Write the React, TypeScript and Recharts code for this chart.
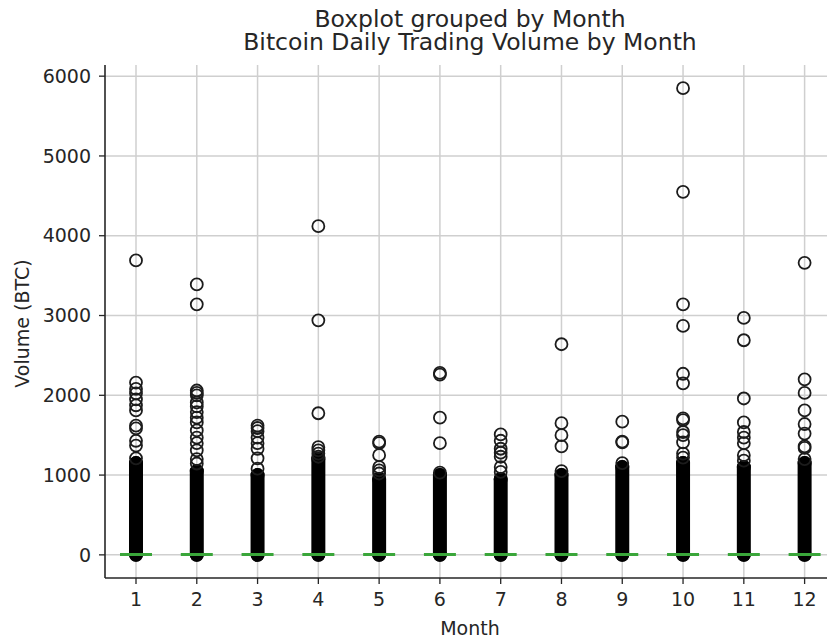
import React from 'react';
import { ScatterChart, Scatter, XAxis, YAxis, CartesianGrid, ErrorBar } from 'recharts';

const months = [1, 2, 3, 4, 5, 6, 7, 8, 9, 10, 11, 12];
const yTicks = [0, 1000, 2000, 3000, 4000, 5000, 6000];

// median of daily volume per month (close to zero)
const medianVolume = [4, 4, 3, 4, 3, 3, 3, 3, 3, 4, 4, 4];
// upper end of the dense, fully overlapping flier column per month
const denseUpper = [1150, 1050, 1000, 1200, 950, 1000, 950, 1000, 1100, 1150, 1100, 1150];

// sparse fliers above the dense column
const outliersM1 = [3690, 2160, 2080, 2025, 1950, 1875, 1810, 1620, 1585, 1430, 1370, 1210];
const outliersM2 = [3390, 3140, 2060, 2030, 2000, 1910, 1860, 1790, 1720, 1660, 1560, 1470, 1400, 1310, 1200, 1145];
const outliersM3 = [1620, 1590, 1550, 1470, 1400, 1330, 1210, 1080];
const outliersM4 = [4120, 2940, 1775, 1350, 1310, 1270, 1230];
const outliersM5 = [1420, 1400, 1250, 1100, 1060, 1020];
const outliersM6 = [2280, 2260, 1720, 1400, 1030];
const outliersM7 = [1510, 1430, 1330, 1280, 1230, 1100, 1040];
const outliersM8 = [2640, 1650, 1500, 1360, 1050];
const outliersM9 = [1670, 1420, 1410, 1150];
const outliersM10 = [5850, 4550, 3140, 2870, 2270, 2150, 1710, 1690, 1540, 1500, 1410, 1270, 1220];
const outliersM11 = [2970, 2690, 1960, 1660, 1540, 1470, 1400, 1250, 1180];
const outliersM12 = [3660, 2200, 2030, 1810, 1640, 1520, 1360, 1340, 1200];

const outliersByMonth = [
  outliersM1, outliersM2, outliersM3, outliersM4, outliersM5, outliersM6,
  outliersM7, outliersM8, outliersM9, outliersM10, outliersM11, outliersM12,
];

const titleLines = ['Boxplot grouped by Month', 'Bitcoin Daily Trading Volume by Month'];

const columnData = months.map((m, i) => ({
  month: m,
  volume: medianVolume[i],
  range: [medianVolume[i], denseUpper[i] - medianVolume[i]],
}));
const medianData = months.map((m, i) => ({ month: m, volume: medianVolume[i] }));
const flierData = months.flatMap((m, i) => outliersByMonth[i].map((v) => ({ month: m, volume: v })));

const FONT = 'DejaVu Sans, sans-serif';
const INK = '#262626';

const FlierCircle = (p: any) => (
  <circle cx={p.cx} cy={p.cy} r={6} fill="none" stroke="#1c1c1c" strokeWidth={1.8} />
);
const NoMark = () => <g />;
const MedianLine = (p: any) => (
  <line x1={p.cx - 16} x2={p.cx + 16} y1={p.cy} y2={p.cy} stroke="#3aa63a" strokeWidth={3} />
);

const YLabel = (props: any) => {
  const vb = props.viewBox || { x: 0, y: 0, width: 0, height: 0 };
  const cx = vb.x + 22;
  const cy = vb.y + vb.height / 2 + 2;
  return (
    <text x={cx} y={cy} transform={`rotate(-90 ${cx} ${cy})`} textAnchor="middle"
      dominantBaseline="central" fill={INK} fontSize={19} fontFamily={FONT}>
      Volume (BTC)
    </text>
  );
};

const XLabel = (props: any) => {
  const vb = props.viewBox || { x: 0, y: 0, width: 0, height: 0 };
  const cx = vb.x + vb.width / 2;
  const cy = vb.y + 50;
  return (
    <text x={cx} y={cy} textAnchor="middle" dominantBaseline="central" fill={INK} fontSize={19} fontFamily={FONT}>
      Month
    </text>
  );
};

export default function App() {
  return (
    <div style={{ position: 'absolute', left: 0, top: 0, width: 827, height: 639, overflow: 'hidden', background: '#fff' }}>
      <div style={{ position: 'absolute', left: 0, top: 0, width: 860, height: 639 }}>
        <ScatterChart width={860} height={639} margin={{ top: 65, right: 25, bottom: 0, left: 0 }}
          style={{ maxWidth: 'none' }}>
          <CartesianGrid stroke="#cfcfcf" strokeWidth={1.5} syncWithTicks />
          <XAxis
            dataKey="month"
            type="number"
            domain={[0.49, 12.5]}
            ticks={months}
            allowDataOverflow
            height={61}
            tickSize={6}
            tickMargin={9}
            tick={{ fill: INK, fontSize: 19, fontFamily: FONT }}
            tickLine={{ stroke: INK, strokeWidth: 1.3 }}
            axisLine={{ stroke: INK, strokeWidth: 1.6 }}
            label={{ content: XLabel }}
          />
          <XAxis
            xAxisId="top"
            orientation="top"
            type="number"
            domain={[0.49, 12.5]}
            allowDataOverflow
            height={0}
            tick={false}
            tickLine={false}
            axisLine={{ stroke: INK, strokeWidth: 1.6 }}
          />
          <YAxis
            dataKey="volume"
            type="number"
            domain={[-290, 6140]}
            ticks={yTicks}
            allowDataOverflow
            width={105}
            tickSize={6}
            tickMargin={8}
            tick={{ fill: INK, fontSize: 19, fontFamily: FONT }}
            tickLine={{ stroke: INK, strokeWidth: 1.3 }}
            axisLine={{ stroke: INK, strokeWidth: 1.6 }}
            label={{ content: YLabel }}
          />
          <Scatter data={columnData} dataKey="volume" shape={NoMark} isAnimationActive={false}>
            <ErrorBar dataKey="range" direction="y" width={0} stroke="#000" strokeWidth={14}
              strokeLinecap="round" isAnimationActive={false} />
          </Scatter>
          <Scatter data={flierData} dataKey="volume" shape={FlierCircle} isAnimationActive={false} />
          <Scatter data={medianData} dataKey="volume" shape={MedianLine} isAnimationActive={false} />
        </ScatterChart>
      </div>
      <svg width={827} height={60} style={{ position: 'absolute', left: 0, top: 0 }}>
        {titleLines.map((t, i) => (
          <text key={t} x={470} y={27 + i * 23} textAnchor="middle" fill={INK} fontSize={23.5} fontFamily={FONT}>
            {t}
          </text>
        ))}
      </svg>
    </div>
  );
}
